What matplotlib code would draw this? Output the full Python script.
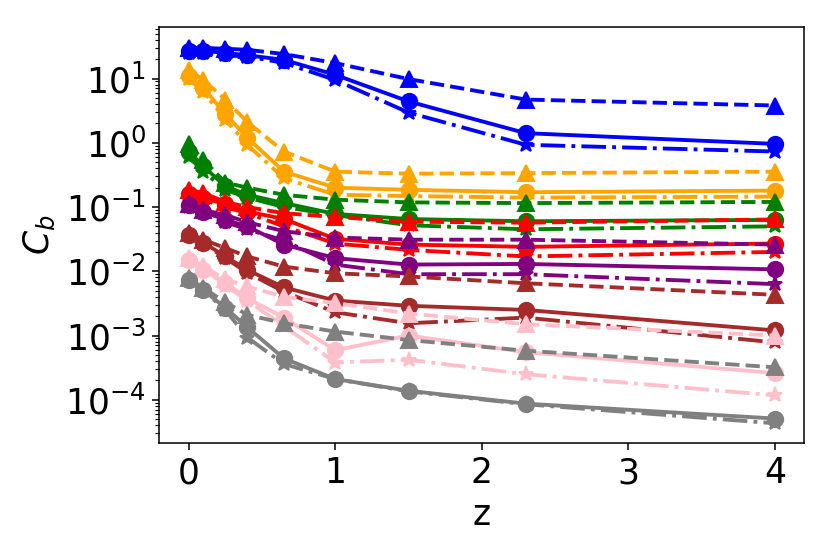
import numpy as np
import matplotlib
matplotlib.use('Agg')
import matplotlib.pyplot as plt

z = [0, 0.1, 0.25, 0.4, 0.65, 1, 1.5, 2.3, 4]

couleurs = ['blue', 'orange', 'green', 'red', 'purple', 'brown', 'pink', 'gray']

# trois séries par couleur : cercles (trait plein), triangles (tirets), étoiles (tiret-point)
cb_cercle = [
    [27, 27, 25, 23, 19.5, 11.4, 4.4, 1.41, 0.96],
    [11, 7.2, 2.8, 1.2, 0.355, 0.2, 0.185, 0.17, 0.18],
    [0.73, 0.43, 0.21, 0.155, 0.115, 0.078, 0.065, 0.06, 0.063],
    [0.16, 0.14, 0.11, 0.085, 0.065, 0.032, 0.026, 0.024, 0.027],
    [0.107, 0.085, 0.063, 0.05, 0.026, 0.016, 0.0127, 0.013, 0.0107],
    [0.037, 0.028, 0.017, 0.0105, 0.0056, 0.0035, 0.0029, 0.0025, 0.0012],
    [0.015, 0.0105, 0.0066, 0.0038, 0.0019, 0.00059, 0.001, 0.00055, 0.00026],
    [0.0073, 0.0051, 0.0027, 0.00134, 0.00044, 0.00021, 0.000138, 0.000087, 0.000051],
]
cb_triangle = [
    [30, 30, 29, 28, 24, 17.4, 9.8, 4.7, 3.8],
    [13.6, 9.5, 4.7, 2.1, 0.73, 0.355, 0.33, 0.337, 0.355],
    [0.95, 0.54, 0.24, 0.2, 0.155, 0.13, 0.118, 0.115, 0.12],
    [0.185, 0.165, 0.12, 0.1, 0.08, 0.07, 0.059, 0.057, 0.064],
    [0.11, 0.09, 0.075, 0.058, 0.042, 0.0335, 0.031, 0.031, 0.026],
    [0.04, 0.031, 0.023, 0.017, 0.0118, 0.0093, 0.0083, 0.0065, 0.0043],
    [0.016, 0.012, 0.0075, 0.0058, 0.004, 0.0032, 0.0022, 0.0015, 0.001],
    [0.0078, 0.0055, 0.0033, 0.0021, 0.00155, 0.00115, 0.00085, 0.00058, 0.00032],
]
cb_etoile = [
    [25, 25, 23, 22, 17.5, 9.5, 2.95, 0.93, 0.73],
    [10, 6.2, 2.3, 0.93, 0.28, 0.155, 0.148, 0.14, 0.145],
    [0.61, 0.355, 0.185, 0.14, 0.1, 0.075, 0.052, 0.045, 0.05],
    [0.14, 0.13, 0.1, 0.08, 0.05, 0.027, 0.0215, 0.017, 0.02],
    [0.1, 0.08, 0.058, 0.045, 0.03, 0.0127, 0.009, 0.009, 0.0063],
    [0.035, 0.027, 0.016, 0.0095, 0.0048, 0.0023, 0.00155, 0.0019, 0.00078],
    [0.015, 0.011, 0.006, 0.0035, 0.0014, 0.00038, 0.00042, 0.00025, 0.000117],
    [0.007, 0.005, 0.0025, 0.00093, 0.00036, 0.00021, 0.000135, 0.000085, 0.000043],
]

dpi = 138.4
fig = plt.figure(figsize=(830/dpi, 554/dpi), dpi=dpi)
ax = fig.add_axes([0.192, 0.201, 0.777, 0.750])

for i, c in enumerate(couleurs):
    ax.plot(z, cb_cercle[i], color=c, linestyle='-', marker='o', lw=2, ms=8)
    ax.plot(z, cb_triangle[i], color=c, linestyle='--', marker='^', lw=2, ms=8)
    ax.plot(z, cb_etoile[i], color=c, linestyle='-.', marker='*', lw=2, ms=8)

ax.set_yscale('log')
ax.set_ylim(2.15e-5, 63)
ax.set_xlim(-0.2, 4.2)
ax.set_xticks([0, 1, 2, 3, 4])
ax.tick_params(labelsize=18)
ax.set_xlabel('z', fontsize=18)
ax.set_ylabel('$C_b$', fontsize=18)

plt.savefig('out.png', dpi=dpi)
